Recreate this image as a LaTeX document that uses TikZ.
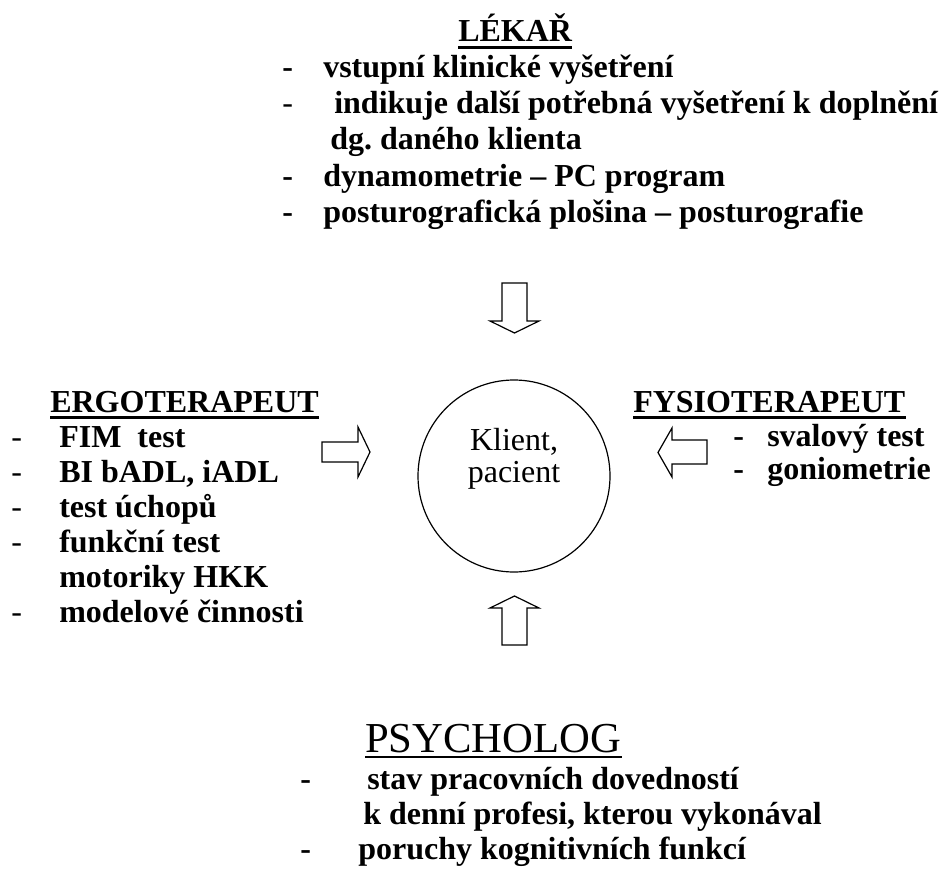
\documentclass[tikz,border=0pt]{standalone}
\usepackage{fontspec}
\setmainfont{Liberation Serif}[BoldFont={Liberation Serif Bold}]
\frenchspacing

\tikzset{
    heading/.style={font=\fontsize{24}{28}\selectfont\bfseries, inner sep=0pt, anchor=base west},
    item/.style={font=\fontsize{24}{28}\selectfont\bfseries, inner sep=0pt, anchor=base west},
    thindash/.style={font=\fontsize{24}{28}\selectfont, inner sep=0pt, anchor=base west},
    blockarrow/.style={draw, line width=0.9pt, fill=white, line join=miter},
    underl/.style={line width=2pt}
}

\begin{document}
\begin{tikzpicture}[x=0.75pt, y=-0.75pt]
    \useasboundingbox (0,0) rectangle (942,870);

    % Lekar
    \node[heading] (lekar) at (458,42) {LÉKAŘ};
    \draw[underl] ([yshift=-4pt]lekar.base west) -- ([yshift=-4pt]lekar.base east);
    \node[item] (ld1) at (282,78) {-};
    \node[item] (l1) at (323,78) {vstupní klinické vyšetření};
    \node[thindash] (ld2) at (282,114) {-};
    \node[item] (l2) at (334,114) {indikuje další potřebná vyšetření k doplnění};
    \node[item] (l3) at (330,150) {dg. daného klienta};
    \node[item] (ld4) at (282,186) {-};
    \node[item] (l4) at (323,186) {dynamometrie – PC program};
    \node[item] (ld5) at (282,222) {-};
    \node[item] (l5) at (323,222) {posturografická plošina – posturografie};

    % Klient in the middle
    \node[draw, circle, line width=0.9pt, minimum size=144pt, inner sep=0pt] (klient) at (514,476) {};
    \node[font=\fontsize{24}{28}\selectfont, inner sep=0pt, anchor=base] (k1) at (514,450) {Klient,};
    \node[font=\fontsize{24}{28}\selectfont, inner sep=0pt, anchor=base] (k2) at (514,482) {pacient};

    % Block arrows
    \draw[blockarrow] (502,283) -- (527,283) -- (527,321) -- (539,321) -- (514.5,333) -- (490,321) -- (502,321) -- cycle;
    \draw[blockarrow] (502,645) -- (527,645) -- (527,608) -- (539,608) -- (514.5,596) -- (490,608) -- (502,608) -- cycle;
    \draw[blockarrow] (322,442) -- (358,442) -- (358,427) -- (370,452) -- (358,477) -- (358,462) -- (322,462) -- cycle;
    \draw[blockarrow] (707,440) -- (672,440) -- (672,428) -- (658,452.5) -- (672,477) -- (672,464) -- (707,464) -- cycle;

    % Ergoterapeut
    \node[heading] (ergo) at (50,412) {ERGOTERAPEUT};
    \draw[underl] ([yshift=-4pt]ergo.base west) -- ([yshift=-4pt]ergo.base east);
    \node[thindash] (ed1) at (11,447) {-};
    \node[item] (e1) at (59,447) {FIM\ \ test};
    \node[thindash] (ed2) at (11,482) {-};
    \node[item] (e2) at (59,482) {BI bADL, iADL};
    \node[thindash] (ed3) at (11,517) {-};
    \node[item] (e3) at (59,517) {test úchopů};
    \node[thindash] (ed4) at (11,552) {-};
    \node[item] (e4) at (59,552) {funkční test};
    \node[item] (e5) at (59,587) {motoriky HKK};
    \node[thindash] (ed6) at (11,622) {-};
    \node[item] (e6) at (59,622) {modelové činnosti};

    % Fysioterapeut
    \node[heading] (fyzio) at (633,412) {FYSIOTERAPEUT};
    \draw[underl] ([yshift=-4pt]fyzio.base west) -- ([yshift=-4pt]fyzio.base east);
    \node[item] (fd1) at (733,446) {-};
    \node[item] (f1) at (767,446) {svalový test};
    \node[item] (fd2) at (733,479) {-};
    \node[item] (f2) at (767,479) {goniometrie};

    % Psycholog
    \node[font=\fontsize{32}{36}\selectfont, inner sep=0pt, anchor=base west] (psych) at (365,752) {PSYCHOLOG};
    \draw[line width=1.6pt] ([yshift=-3.5pt]psych.base west) -- ([yshift=-3.5pt]psych.base east);
    \node[item] (pd1) at (300,789) {-};
    \node[item] (p1) at (367,789) {stav pracovních dovedností};
    \node[item] (p2) at (363,824) {k denní profesi, kterou vykonával};
    \node[item] (pd3) at (300,859) {-};
    \node[item] (p3) at (358,859) {poruchy kognitivních funkcí};
\end{tikzpicture}
\end{document}
